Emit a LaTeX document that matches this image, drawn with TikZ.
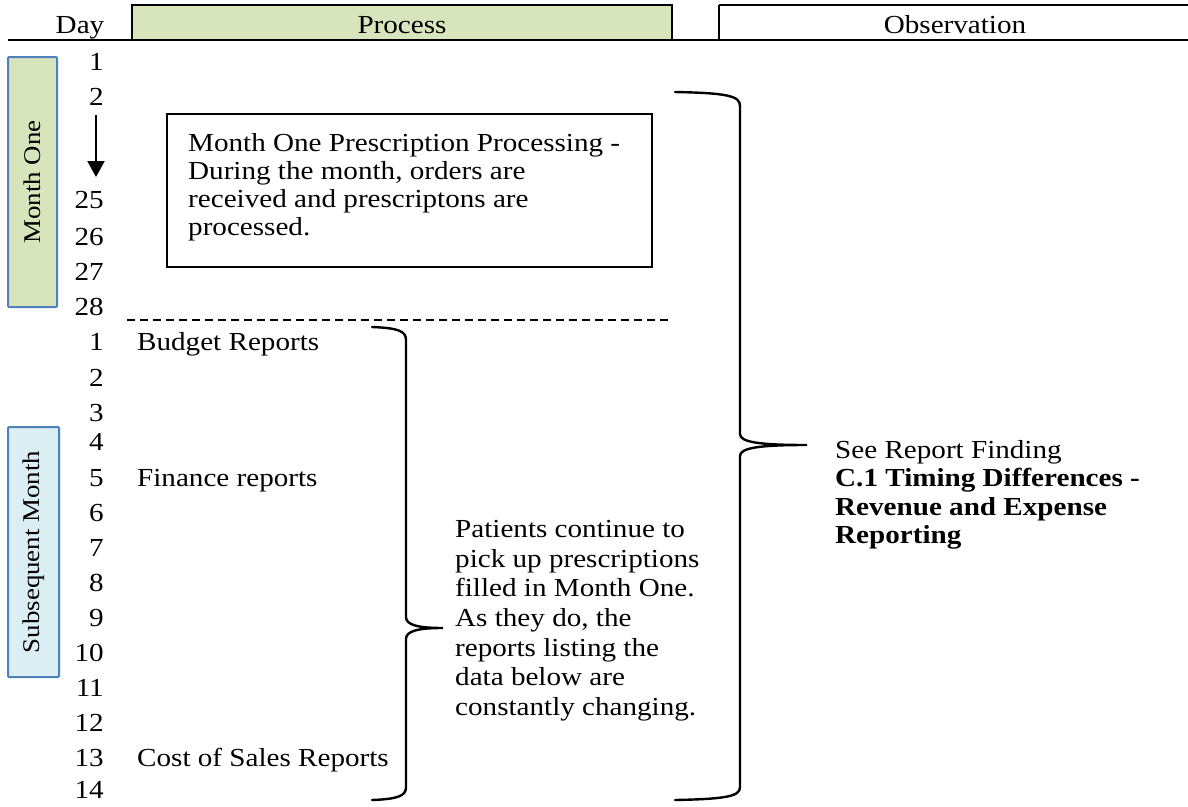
\documentclass[tikz,border=0pt]{standalone}
\usepackage{fontspec}
\setmainfont{Liberation Serif}[FakeStretch=1.12]
\usetikzlibrary{
	arrows.meta,
	calc
}
\definecolor{procgreen}{HTML}{D8E4BC}
\definecolor{monthblue}{HTML}{DBEEF3}
\definecolor{edgeblue}{HTML}{4F81BD}
\tikzset{
	daytext/.style={anchor=base east, inner sep=0pt, font=\fontsize{26}{29}\selectfont},
	headtext/.style={anchor=base, inner sep=0pt, font=\fontsize{26}{29}\selectfont},
	bodytext/.style={anchor=north west, inner sep=0pt, align=left, font=\fontsize{26}{28}\selectfont},
	headbox/.style={draw=black, line width=2.3pt},
	monthbox/.style={draw=edgeblue, line width=2pt, rounded corners=1pt, inner sep=0pt, rotate=90, font=\fontsize{24}{26}\selectfont},
	bracepath/.style={line width=2.4pt, line cap=round}
}

\begin{document}
\begin{tikzpicture}[x=1pt, y=-1pt]
                \useasboundingbox (0,0) rectangle (1188,806);
                \draw[headbox, fill=procgreen] (132,5) rectangle (672,40);
                \draw[headbox] (719,5) -- (719,40);
                \draw[headbox] (719,5) -- (1192,5);
                \draw[line width=2.3pt] (8,40) -- (1188,40);
                \node[headtext] (day) at (80,33) {Day};
                \node[headtext] (process) at (402,33) {Process};
                \node[headtext] (observation) at (955,33) {Observation};

                \node[monthbox, fill=procgreen, minimum width=250pt, minimum height=49pt] (monthone) at (32.5,182) {Month One};
                \node[monthbox, fill=monthblue, minimum width=250pt, minimum height=51pt] (submonth) at (33.5,552) {Subsequent Month};

                \foreach \lab/\name/\y in {1/a1/70, 2/a2/105, 25/a25/208, 26/a26/245, 27/a27/280, 28/a28/315,
                        1/b1/350, 2/b2/386, 3/b3/421, 4/b4/450, 5/b5/486, 6/b6/521, 7/b7/556, 8/b8/591,
                        9/b9/626, 10/b10/661, 11/b11/696, 12/b12/731, 13/b13/766, 14/b14/798}
                    \node[daytext] (\name) at (104,\y) {\lab};

                \coordinate (arrtop) at (96,115);
                \coordinate (arrtip) at (96,177);
                \draw[line width=2pt, -{Triangle[width=17pt,length=16pt]}] (arrtop) -- (arrtip);

                \draw[line width=2pt] (167,114) rectangle (652,267);
                \node[bodytext] (rxtext) at (188,133) {Month One Prescription Processing -\\During the month, orders are\\received and prescriptons are\\processed.};

                \coordinate (dashL) at (127,320);
                \coordinate (dashR) at (668,320);
                \draw[line width=1.6pt, dash pattern=on 8pt off 5pt] (dashL) -- (dashR);

                \node[anchor=base west, inner sep=0pt, font=\fontsize{26}{29}\selectfont] (budget) at (137,350) {Budget Reports};
                \node[anchor=base west, inner sep=0pt, font=\fontsize{26}{29}\selectfont] (finance) at (137,486) {Finance reports};
                \node[anchor=base west, inner sep=0pt, font=\fontsize{26}{29}\selectfont] (costsales) at (137,766) {Cost of Sales Reports};

                \coordinate (smtop) at (372,327);
                \coordinate (smtip) at (443,628);
                \coordinate (smbot) at (372,800);
                \draw[bracepath] (smtop) .. controls (398,328) and (406,331) .. (406,340)
                    -- (406,617) .. controls (406,625) and (418,628) .. (smtip)
                    .. controls (418,628) and (406,631) .. (406,639)
                    -- (406,787) .. controls (406,796) and (398,799) .. (smbot);

                \coordinate (bgtop) at (675,92);
                \coordinate (bgtip) at (807,445);
                \coordinate (bgbot) at (675,800);
                \draw[bracepath] (bgtop) .. controls (728,93) and (740,96) .. (740,106)
                    -- (740,434) .. controls (740,442) and (758,445) .. (bgtip)
                    .. controls (758,445) and (740,448) .. (740,456)
                    -- (740,787) .. controls (740,796) and (728,799) .. (bgbot);

                \node[bodytext, font=\fontsize{26}{29.7}\selectfont] (patients) at (455,520) {Patients continue to\\pick up prescriptions\\filled in Month One.\\As they do, the\\reports listing the\\data below are\\constantly changing.};

                \node[bodytext, font=\fontsize{26}{28.5}\selectfont] (finding) at (835,440) {See Report Finding\\\textbf{C.1 Timing Differences -}\\\textbf{Revenue and Expense}\\\textbf{Reporting}};
            \end{tikzpicture}
\end{document}
